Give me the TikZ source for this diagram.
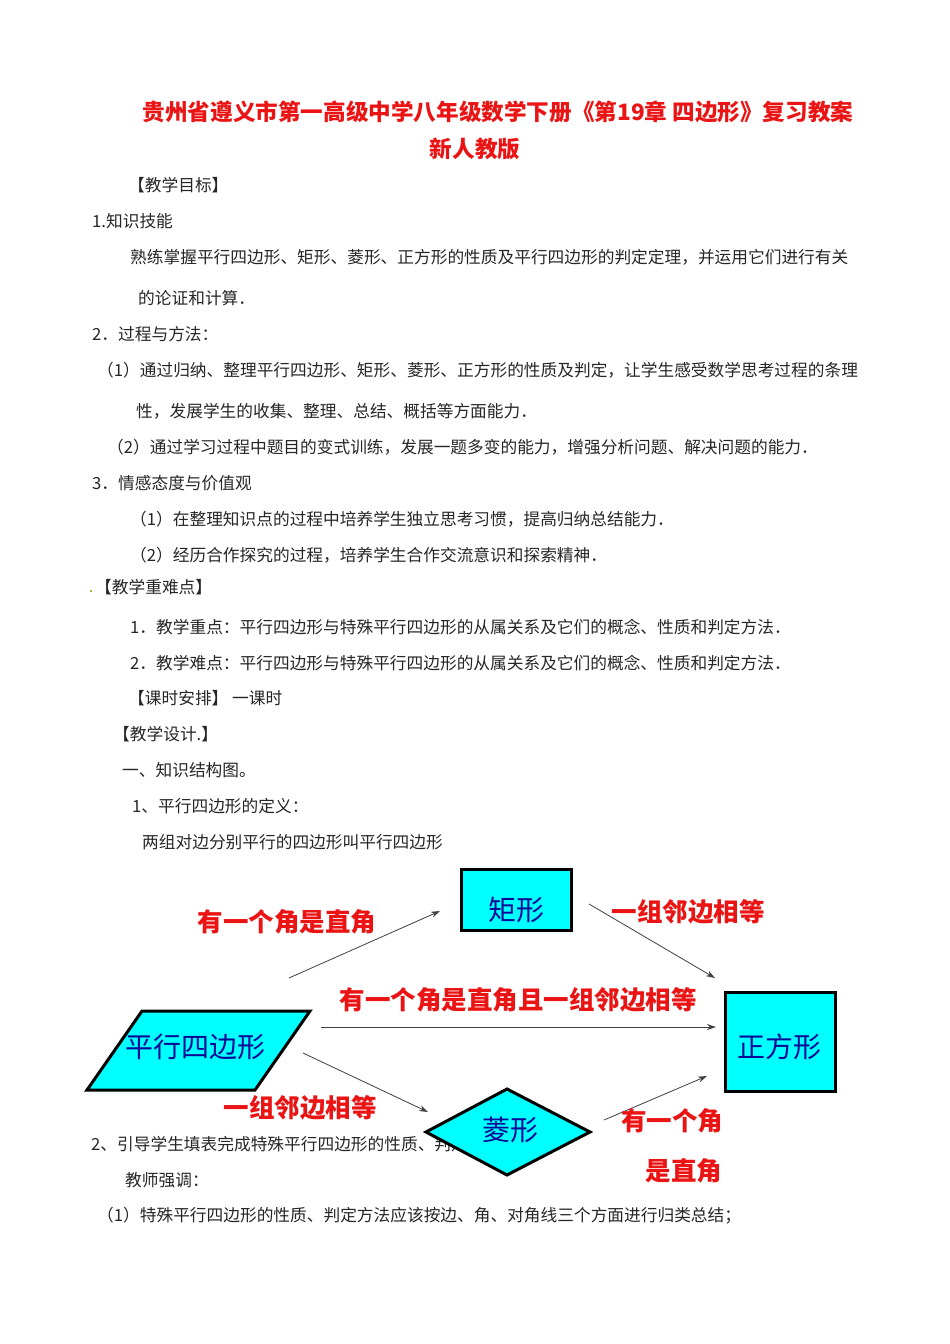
\documentclass[tikz,border=0pt]{standalone}
\usepackage{fontspec}
\setmainfont{Noto Sans CJK SC}
\usetikzlibrary{arrows.meta}
\definecolor{cy}{RGB}{0,255,255}
\definecolor{nb}{RGB}{10,10,150}
\definecolor{rd}{RGB}{235,20,20}
\tikzset{
 body/.style={anchor=west,font=\fontsize{16.7}{19}\selectfont,text=black!85,inner sep=0},
 lab/.style={font=\fontsize{25.5}{28}\selectfont\bfseries,text=rd,inner sep=0},
 shp/.style={draw=black,line width=3pt,fill=cy},
 nt/.style={font=\fontsize{28}{32}\selectfont,text=nb,inner sep=0},
 arr/.style={draw=black!75,line width=0.8pt,-{Stealth[length=9pt,width=6pt]}}
}
\begin{document}
\begin{tikzpicture}[x=1pt,y=-1pt]
\useasboundingbox[fill=white] (0,0) rectangle (950,1344);
\node[font=\fontsize{22.6}{26}\selectfont\bfseries,text=rd,inner sep=0] (t1) at (498,112) {贵州省遵义市第一高级中学八年级数学下册《第19章 四边形》复习教案};
\node[font=\fontsize{22.6}{26}\selectfont\bfseries,text=rd,inner sep=0] (t2) at (475,149) {新人教版};
\node[body] (l1) at (128,185) {【教学目标】};
\node[body] (l2) at (92,221) {1.知识技能};
\node[body] (l3) at (130,257) {熟练掌握平行四边形、矩形、菱形、正方形的性质及平行四边形的判定定理，并运用它们进行有关};
\node[body] (l4) at (138,298) {的论证和计算．};
\node[body] (l5) at (92,334) {2．过程与方法：};
\node[body] (l6) at (97,370) {（1）通过归纳、整理平行四边形、矩形、菱形、正方形的性质及判定，让学生感受数学思考过程的条理};
\node[body] (l7) at (136,411) {性，发展学生的收集、整理、总结、概括等方面能力．};
\node[body] (l8) at (107,447) {（2）通过学习过程中题目的变式训练，发展一题多变的能力，增强分析问题、解决问题的能力．};
\node[body] (l9) at (92,483) {3．情感态度与价值观};
\node[body] (l10) at (130,519) {（1）在整理知识点的过程中培养学生独立思考习惯，提高归纳总结能力．};
\node[body] (l11) at (130,555) {（2）经历合作探究的过程，培养学生合作交流意识和探索精神．};
\node[body] (l12) at (95,587) {【教学重难点】};
\fill[yellow!70!black] (90,590) rectangle (92,592);
\node[body] (l13) at (130,627) {1．教学重点：平行四边形与特殊平行四边形的从属关系及它们的概念、性质和判定方法．};
\node[body] (l14) at (130,663) {2．教学难点：平行四边形与特殊平行四边形的从属关系及它们的概念、性质和判定方法．};
\node[body] (l15) at (128,698) {【课时安排】 一课时};
\node[body] (l16) at (113,734) {【教学设计.】};
\node[body] (l17) at (122,770) {一、知识结构图。};
\node[body] (l18) at (132,806) {1、平行四边形的定义：};
\node[body] (l19) at (142,842) {两组对边分别平行的四边形叫平行四边形};
% shapes
\draw[shp] (87,1090) -- (255,1090) -- (310,1011) -- (142,1011) -- cycle;
\node[nt] (pb) at (195,1047) {平行四边形};
\draw[shp] (461,869) rectangle (571,930);
\node[nt] (jx) at (516,910) {矩形};
\draw[shp] (725,992) rectangle (835,1091);
\node[nt] (zf) at (779,1047) {正方形};
\node[body] (l20) at (91,1144) {2、引导学生填表完成特殊平行四边形的性质、判定方法。};
\draw[shp] (507,1089) -- (590,1132) -- (507,1175) -- (426,1132) -- cycle;
\node[nt] (lx) at (510,1130) {菱形};
\node[body] (l21) at (125,1180) {教师强调：};
\node[body] (l22) at (97,1216) {（1）特殊平行四边形的性质、判定方法应该按边、角、对角线三个方面进行归类总结；};
% arrows
\coordinate (a1s) at (289,978); \coordinate (a1e) at (440,911);
\coordinate (a2s) at (589,904); \coordinate (a2e) at (715,978);
\coordinate (a3s) at (321,1027); \coordinate (a3e) at (716,1027);
\coordinate (a4s) at (303,1053); \coordinate (a4e) at (428,1112);
\coordinate (a5s) at (604,1120); \coordinate (a5e) at (707,1076);
\draw[arr] (a1s) -- (a1e);
\draw[arr] (a2s) -- (a2e);
\draw[arr] (a3s) -- (a3e);
\draw[arr] (a4s) -- (a4e);
\draw[arr] (a5s) -- (a5e);
\node[lab] (b1) at (287,922) {有一个角是直角};
\node[lab] (b2) at (688,912) {一组邻边相等};
\node[lab] (b3) at (518,1000) {有一个角是直角且一组邻边相等};
\node[lab] (b4) at (300,1108) {一组邻边相等};
\node[lab] (b5) at (672,1121) {有一个角};
\node[lab] (b6) at (684,1171) {是直角};
\end{tikzpicture}
\end{document}
